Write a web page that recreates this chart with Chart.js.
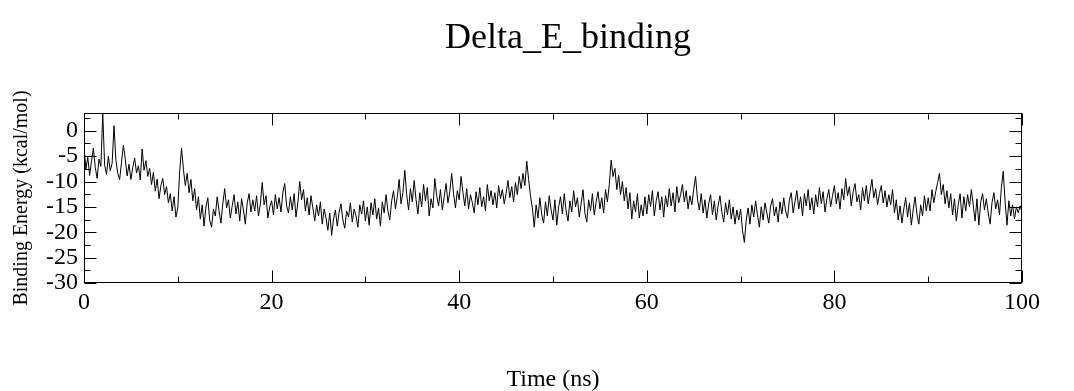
<!DOCTYPE html>
<html>
<head>
<meta charset="utf-8">
<script src="https://cdn.jsdelivr.net/npm/chart.js@4.4.1/dist/chart.umd.min.js"></script>
<style>
  html, body { margin: 0; padding: 0; background: #fff; }
  #wrap { width: 1074px; height: 391px; position: relative; }
</style>
</head>
<body>
<div id="wrap"><canvas id="c" width="1074" height="391"></canvas></div>
<script>
// ---- data ----
const timeStep = 0.2; // ns between samples
const bindingEnergy = [
  // 0 - 9.8 ns
  -3.0, -7.6, -5.2, -8.8, -6.0, -3.4, -7.2, -9.4, -5.6, -7.0,
  3.4, -6.8, -8.6, -5.0, -7.9, -6.4, 1.0, -5.8, -8.4, -9.6,
  -6.2, -2.8, -5.6, -8.9, -6.6, -9.6, -7.2, -5.4, -8.3, -6.9,
  -9.7, -3.6, -7.8, -5.9, -9.0, -7.4, -10.6, -8.2, -11.9, -9.5,
  -13.4, -10.8, -9.4, -12.6, -11.0, -14.2, -12.4, -15.8, -13.0, -17.0,
  // 10 - 19.8 ns
  -15.2, -8.0, -3.4, -7.6, -10.8, -8.4, -12.2, -9.6, -13.8, -11.4,
  -15.6, -13.0, -17.4, -14.6, -18.8, -15.0, -13.2, -17.6, -19.0, -15.4,
  -16.8, -13.0, -15.8, -18.2, -14.4, -11.4, -15.2, -13.6, -17.2, -14.8,
  -12.6, -16.4, -14.0, -17.8, -13.4, -15.6, -18.4, -14.2, -12.4, -16.0,
  -13.6, -15.8, -12.8, -16.8, -14.4, -10.2, -14.6, -12.8, -17.2, -15.0,
  // 20 - 29.8 ns
  -13.8, -16.6, -12.6, -15.4, -13.2, -16.0, -12.2, -10.4, -14.8, -16.2,
  -13.0, -15.6, -12.4, -17.0, -14.2, -10.0, -13.6, -11.6, -15.8, -13.2,
  -16.6, -12.8, -15.2, -17.8, -14.6, -16.8, -14.0, -18.4, -15.4, -17.2,
  -19.6, -16.2, -20.6, -17.4, -15.6, -18.8, -16.0, -14.4, -17.6, -19.2,
  -15.8, -17.0, -14.2, -18.0, -15.4, -16.8, -19.0, -14.6, -16.4, -13.8,
  // 30 - 39.8 ns
  -17.8, -15.0, -18.6, -14.2, -16.6, -13.4, -17.4, -15.2, -18.8, -14.0,
  -16.2, -12.6, -15.8, -17.6, -13.8, -11.8, -15.4, -13.0, -9.6, -14.4,
  -12.2, -7.8, -12.6, -15.6, -11.4, -14.0, -9.8, -13.6, -16.4, -12.2,
  -15.0, -10.6, -13.8, -11.2, -16.8, -13.4, -15.2, -9.4, -12.8, -14.8,
  -11.6, -15.6, -13.0, -10.4, -14.2, -12.0, -8.4, -12.4, -15.2, -11.8,
  // 40 - 49.8 ns
  -13.6, -9.0, -12.2, -14.8, -11.4, -15.4, -12.6, -14.2, -16.2, -12.0,
  -14.6, -11.2, -15.0, -13.0, -15.8, -10.6, -13.8, -11.8, -14.6, -12.2,
  -15.2, -10.8, -13.4, -11.6, -14.4, -12.4, -9.8, -13.2, -11.0, -14.0,
  -10.2, -12.6, -9.0, -11.4, -8.4, -10.8, -6.0, -9.6, -12.8, -15.2,
  -19.0, -14.6, -17.2, -13.2, -16.6, -18.2, -14.0, -16.8, -12.8, -15.6,
  // 50 - 59.8 ns
  -17.6, -13.6, -18.6, -15.0, -13.0, -16.4, -12.4, -15.8, -17.8, -13.8,
  -16.0, -11.8, -15.0, -13.2, -17.0, -14.4, -11.6, -16.2, -18.0, -13.6,
  -15.8, -12.4, -16.6, -14.0, -12.0, -15.4, -13.2, -16.2, -11.6, -14.0,
  -10.6, -5.8, -9.0, -7.4, -11.6, -8.8, -12.6, -10.0, -13.8, -11.2,
  -15.4, -12.2, -17.4, -13.8, -16.0, -12.4, -17.2, -14.6, -16.8, -13.0,
  // 60 - 69.8 ns
  -16.4, -12.6, -15.0, -11.8, -16.8, -13.8, -12.0, -15.6, -13.0, -17.0,
  -12.8, -15.0, -11.4, -14.8, -12.2, -16.0, -11.0, -14.2, -12.6, -10.6,
  -14.0, -11.8, -15.4, -12.8, -14.6, -11.6, -9.0, -13.4, -15.6, -12.4,
  -16.2, -13.6, -17.2, -14.4, -12.6, -16.6, -13.8, -17.6, -14.8, -12.8,
  -16.0, -18.0, -14.2, -16.6, -13.6, -17.4, -15.0, -18.4, -15.6, -17.6,
  // 70 - 79.8 ns
  -15.4, -19.6, -22.0, -17.6, -15.2, -18.4, -14.6, -17.0, -13.8, -16.6,
  -19.0, -15.0, -17.6, -14.2, -16.2, -18.2, -14.8, -13.4, -16.8, -15.0,
  -18.0, -14.0, -16.4, -13.2, -15.8, -17.2, -13.6, -12.2, -16.2, -14.0,
  -11.8, -15.4, -13.0, -16.8, -12.4, -14.8, -11.6, -15.6, -13.2, -16.4,
  -12.6, -15.0, -11.2, -14.4, -12.0, -16.0, -13.4, -11.6, -15.0, -12.8,
  // 80 - 89.8 ns
  -10.8, -14.4, -12.2, -15.4, -11.4, -13.6, -9.4, -12.8, -11.0, -14.8,
  -12.0, -10.4, -14.0, -12.6, -15.6, -11.2, -13.8, -10.8, -14.4, -12.0,
  -9.6, -13.2, -11.4, -14.6, -12.4, -10.8, -14.2, -11.8, -15.0, -12.6,
  -14.6, -11.6, -16.2, -13.6, -17.6, -14.8, -18.2, -15.4, -13.2, -17.0,
  -14.2, -18.6, -15.6, -13.0, -16.4, -18.4, -14.6, -16.8, -12.8, -15.8,
  // 90 - 100 ns
  -13.2, -15.8, -11.6, -14.2, -12.0, -10.2, -8.4, -12.6, -10.6, -14.4,
  -11.8, -15.2, -12.4, -16.6, -13.4, -17.8, -14.6, -12.4, -17.2, -13.0,
  -15.8, -12.6, -15.0, -11.6, -14.6, -17.8, -13.4, -18.6, -14.0, -12.4,
  -15.6, -13.4, -16.2, -18.4, -14.2, -12.2, -15.4, -13.6, -16.6, -11.2,
  -8.0, -14.0, -18.6, -13.8, -16.8, -14.6, -17.4, -15.0, -16.2, -14.8,
  -16.0
];
const times = bindingEnergy.map((_, i) => +(i * timeStep).toFixed(1));

const xMajorTicks = [0, 20, 40, 60, 80, 100];
const xMinorTicks = [10, 30, 50, 70, 90];
const yMajorTicks = [-30, -25, -20, -15, -10, -5, 0];
const yMinorTicks = [-27.5, -22.5, -17.5, -12.5, -7.5, -2.5, 2.5];

const titleText = 'Delta_E_binding';
const xTitle = 'Time (ns)';
const yTitle = 'Binding Energy (kcal/mol)';

const FONT = "'Liberation Serif', 'Times New Roman', serif";

const frameTicks = {
  id: 'frameTicks',
  afterDraw(chart) {
    const { ctx, chartArea: a, scales } = chart;
    const xs = scales.x, ys = scales.y;
    const major = 12, minor = 6;
    ctx.save();
    // title
    ctx.fillStyle = '#000';
    ctx.font = "36px " + FONT;
    ctx.textAlign = 'center';
    ctx.textBaseline = 'middle';
    ctx.fillText(titleText, 568, 39);
    // frame + inward ticks
    ctx.strokeStyle = '#000';
    ctx.lineWidth = 1;
    const L = Math.round(a.left) + 0.5, R = Math.round(a.right) - 0.5;
    const T = Math.round(a.top) + 0.5, B = Math.round(a.bottom) - 0.5;
    ctx.strokeRect(L, T, R - L, B - T);
    ctx.beginPath();
    const xt = (v, len) => {
      const px = Math.round(xs.getPixelForValue(v)) + 0.5;
      ctx.moveTo(px, B); ctx.lineTo(px, B - len);
      ctx.moveTo(px, T); ctx.lineTo(px, T + len);
    };
    const yt = (v, len) => {
      const py = Math.round(ys.getPixelForValue(v)) + 0.5;
      ctx.moveTo(L, py); ctx.lineTo(L + len, py);
      ctx.moveTo(R, py); ctx.lineTo(R - len, py);
    };
    xMajorTicks.forEach(v => xt(v, major));
    xMinorTicks.forEach(v => xt(v, minor));
    yMajorTicks.forEach(v => yt(v, major));
    yMinorTicks.forEach(v => yt(v, minor));
    ctx.stroke();
    ctx.restore();
  }
};

new Chart(document.getElementById('c'), {
  type: 'line',
  data: {
    datasets: [{
      data: bindingEnergy.map((v, i) => ({ x: times[i], y: v })),
      borderColor: '#000',
      borderWidth: 1,
      pointRadius: 0,
      tension: 0,
      fill: false
    }]
  },
  options: {
    responsive: false,
    animation: false,
    layout: { padding: { left: 0, right: 52, top: 113, bottom: 0 } },
    plugins: {
      legend: { display: false },
      tooltip: { enabled: false },
      title: { display: false }
    },
    scales: {
      x: {
        type: 'linear',
        min: 0, max: 100,
        afterBuildTicks: s => { s.ticks = xMajorTicks.map(v => ({ value: v })); },
        afterFit: s => { s.height = 108; },
        grid: { display: false, drawTicks: false },
        border: { display: false },
        ticks: { color: '#000', font: { family: FONT, size: 24 }, padding: 5, maxRotation: 0, autoSkip: false },
        title: { display: true, text: xTitle, color: '#000', font: { family: FONT, size: 24 }, padding: { top: 4, bottom: -3 } }
      },
      y: {
        type: 'linear',
        min: -30, max: 3.5,
        afterBuildTicks: s => { s.ticks = yMajorTicks.map(v => ({ value: v })); },
        afterFit: s => { s.width = 84; },
        grid: { display: false, drawTicks: false },
        border: { display: false },
        ticks: { color: '#000', font: { family: FONT, size: 24 }, padding: 6, autoSkip: false },
        title: { display: true, text: yTitle, color: '#000', font: { family: FONT, size: 20 }, padding: { top: 10, bottom: 0 } }
      }
    }
  },
  plugins: [frameTicks]
});
</script>
</body>
</html>
